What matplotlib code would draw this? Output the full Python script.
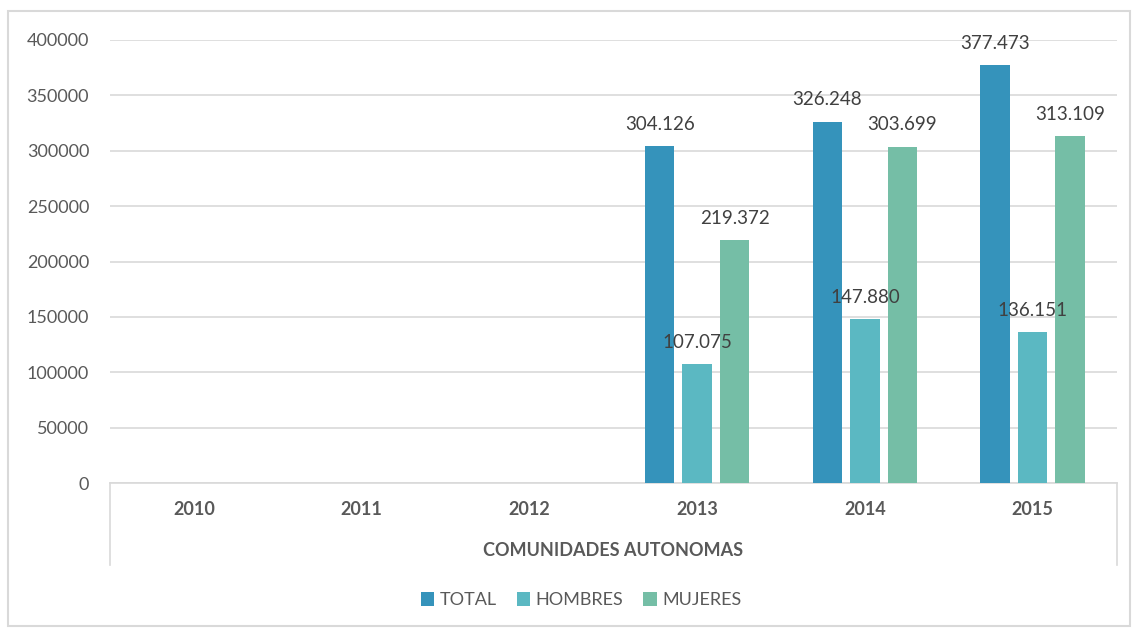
import matplotlib.pyplot as plt
import numpy as np

years = ['2010', '2011', '2012', '2013', '2014', '2015']
total = [np.nan, np.nan, np.nan, 304126, 326248, 377473]
hombres = [np.nan, np.nan, np.nan, 107075, 147880, 136151]
mujeres = [np.nan, np.nan, np.nan, 219372, 303699, 313109]
series_names = ['TOTAL', 'HOMBRES', 'MUJERES']
colors = ['#3593BB', '#5BB8C2', '#75BEA6']

plt.rcParams['font.family'] = ['Lato', 'DejaVu Sans']
text_color = '#595959'
grid_color = '#D9D9D9'

fig = plt.figure(figsize=(11.36, 6.30), dpi=100)
ax = fig.add_axes([110 / 1136, 147 / 630, 1006.5 / 1136, 443 / 630])

x = np.arange(len(years))
width = 0.175
step = 0.2235
for i, (vals, name, c) in enumerate(zip([total, hombres, mujeres], series_names, colors)):
    pos = x + (i - 1) * step
    ax.bar(pos, vals, width, color=c, label=name, zorder=3)
    for p, v in zip(pos, vals):
        if not np.isnan(v):
            lbl = f'{int(v):,}'.replace(',', '.')
            ax.annotate(lbl, (p, v), xytext=(0, 9.5), textcoords='offset points',
                        ha='center', va='bottom', fontsize=13.5, color='#404040',
                        zorder=6)

ax.set_xlim(-0.5, len(years) - 0.5)
ax.set_ylim(0, 400000)
ax.set_yticks(np.arange(0, 400001, 50000))
ax.yaxis.grid(True, color=grid_color, linewidth=1.2, zorder=0)
ax.tick_params(axis='y', length=0, labelsize=13, labelcolor=text_color, pad=15)
ax.tick_params(axis='x', length=0, labelbottom=False)
for s in ['top', 'right', 'left']:
    ax.spines[s].set_visible(False)
ax.spines['bottom'].set_color(grid_color)
ax.spines['bottom'].set_linewidth(1.2)

# multi-level category axis
for i, yr in enumerate(years):
    ax.text(i, -0.06, yr, transform=ax.get_xaxis_transform(), ha='center', va='center',
            fontsize=13, fontweight='bold', color=text_color)
ax.text(0.5, -0.152, 'COMUNIDADES AUTONOMAS', transform=ax.transAxes, ha='center', va='center',
        fontsize=13, fontweight='bold', color=text_color)
for xf in [0, 1]:
    ax.plot([xf, xf], [0, -0.186], transform=ax.transAxes, color=grid_color,
            linewidth=1.2, clip_on=False)

leg = fig.legend(loc='center', bbox_to_anchor=(0.5114, 0.047), ncol=3, frameon=False,
                 fontsize=13, handlelength=0.75, handleheight=0.75, handletextpad=0.3,
                 columnspacing=1.1)
for t in leg.get_texts():
    t.set_color(text_color)

# outer chart border
fig.add_artist(plt.Rectangle((8 / 1136, 4 / 630), 1122 / 1136, 615 / 630,
                             transform=fig.transFigure, fill=False,
                             edgecolor=grid_color, linewidth=1.5))

fig.savefig('out.png', dpi=100)
